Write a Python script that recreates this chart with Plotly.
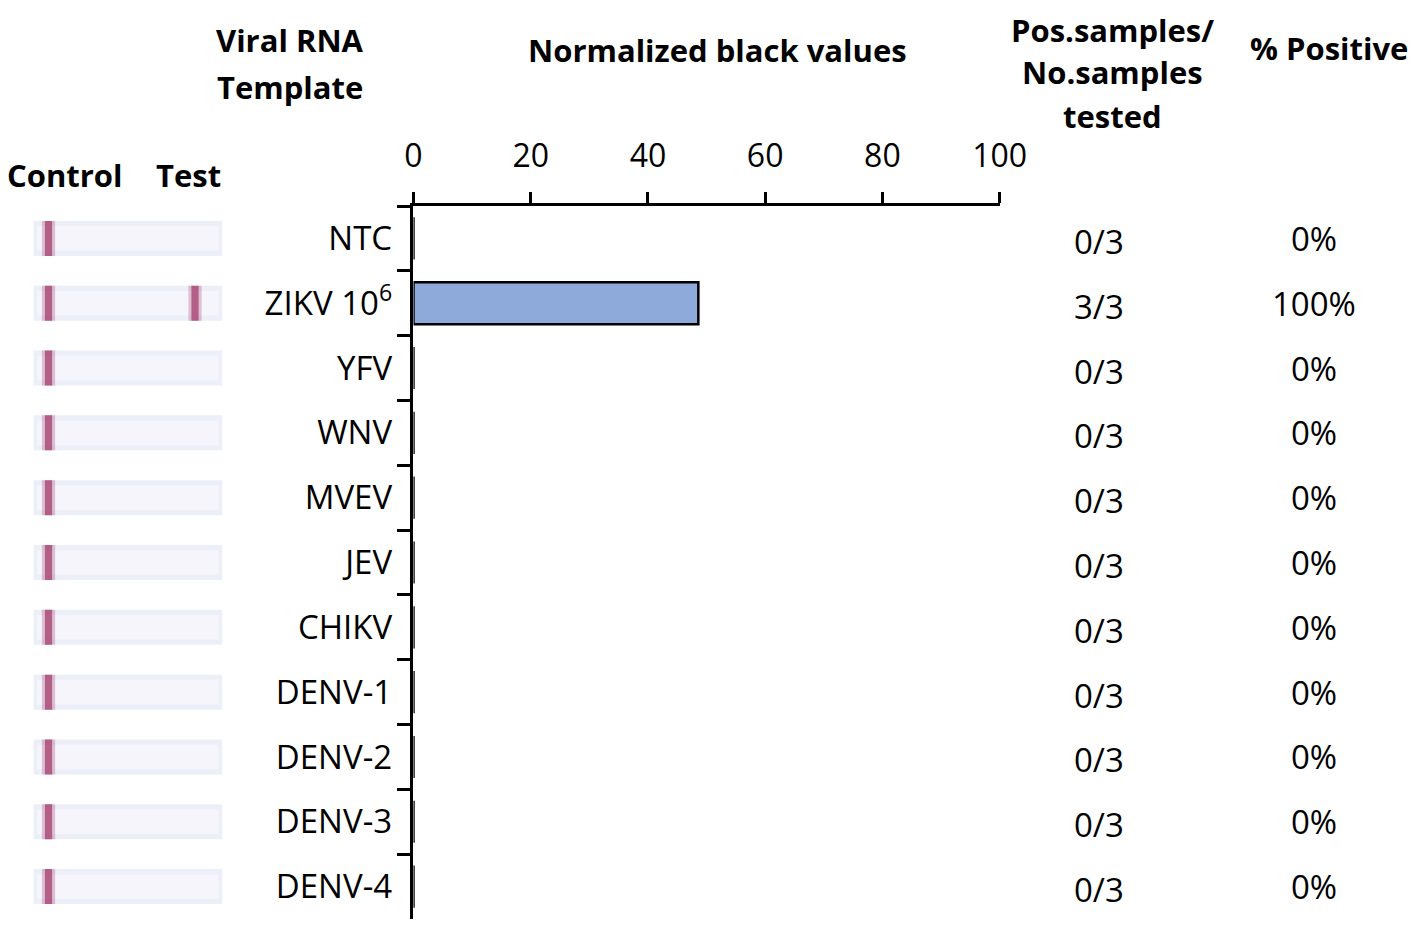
import plotly.graph_objects as go

# ---- data ----
templates = ["NTC", "ZIKV 10<sup>6</sup>", "YFV", "WNV", "MVEV", "JEV", "CHIKV",
             "DENV-1", "DENV-2", "DENV-3", "DENV-4"]
normalized_black = [0, 48.6, 0, 0, 0, 0, 0, 0, 0, 0, 0]
pos_samples = [0, 3, 0, 0, 0, 0, 0, 0, 0, 0, 0]
n_tested = [3, 3, 3, 3, 3, 3, 3, 3, 3, 3, 3]
x_ticks = [0, 20, 40, 60, 80, 100]

W, H = 1418, 929
FONT = "Open Sans"

# calibrated pixel -> paper conversion
def px(x):
    return ((x - 16.6) / 0.9744) / W

def py(y, off=7):
    return 1 - (y - off) / H

n_cat = len(templates)

fig = go.Figure()
fig.add_trace(go.Bar(
    x=normalized_black, y=templates, orientation="h",
    marker=dict(color="#8eaadb", line=dict(color="black", width=2.5)),
    xaxis="x", yaxis="y", showlegend=False, hoverinfo="x+y",
))

fig.add_trace(go.Scatter(x=[0, 1], y=[templates[0], templates[0]], mode="markers",
                         marker=dict(opacity=0, size=1), xaxis="x2", yaxis="y",
                         showlegend=False, hoverinfo="skip"))

LINE = "#a84676"
shapes = []
for i, (t, p) in enumerate(zip(templates, pos_samples)):
    shapes.append(dict(type="rect", xref="x2", yref="y", x0=0, x1=1,
                       y0=i - 0.27, y1=i + 0.27, fillcolor="#eceef8",
                       line=dict(width=0), layer="below"))
    shapes.append(dict(type="rect", xref="x2", yref="y", x0=0.02, x1=0.98,
                       y0=i - 0.19, y1=i + 0.19, fillcolor="#f5f5fb",
                       line=dict(width=0), layer="below"))
    line_pos = [(0.055, 0.105)]
    if p > 0:
        line_pos.append((0.83, 0.88))
    for a, b in line_pos:
        shapes.append(dict(type="rect", xref="x2", yref="y", x0=a - 0.01, x1=b + 0.01,
                           y0=i - 0.27, y1=i + 0.27, fillcolor=LINE,
                           opacity=0.3, line=dict(width=0), layer="below"))
        shapes.append(dict(type="rect", xref="x2", yref="y", x0=a + 0.006, x1=b - 0.006,
                           y0=i - 0.27, y1=i + 0.27, fillcolor=LINE,
                           opacity=0.8, line=dict(width=0), layer="below"))

annotations = []
for t, p, n in zip(templates, pos_samples, n_tested):
    annotations.append(dict(xref="paper", yref="y", x=px(1098), y=t,
                            text=f"{p}/{n}", showarrow=False,
                            font=dict(size=33, family=FONT, color="black"),
                            xanchor="center", yanchor="middle", yshift=-3))
    pct = round(100 * p / n)
    annotations.append(dict(xref="paper", yref="y", x=px(1313), y=t,
                            text=f"{pct}%", showarrow=False,
                            font=dict(size=33, family=FONT, color="black"),
                            xanchor="center", yanchor="middle"))

headers = [
    ("Viral RNA", 290, 40), ("Template", 290, 87),
    ("Normalized black values", 717, 50),
    ("Pos.samples/", 1112, 30), ("No.samples", 1112, 72), ("tested", 1112, 116),
    ("% Positive", 1328, 48),
    ("Control", 65, 175), ("Test", 188, 175),
]
for txt, x, y in headers:
    annotations.append(dict(xref="paper", yref="paper", x=px(x), y=py(y, 8),
                            text=f"<b>{txt}</b>", showarrow=False,
                            font=dict(size=31, family=FONT, color="black"),
                            xanchor="center", yanchor="middle"))

fig.update_layout(
    width=W, height=H,
    margin=dict(l=0, r=0, t=0, b=0),
    paper_bgcolor="white", plot_bgcolor="white",
    font=dict(family=FONT, size=33, color="black"),
    bargap=0.35,
    xaxis=dict(domain=[px(413), px(999)], range=[0, 100], side="top",
               tickvals=x_ticks, ticks="outside", ticklen=11, tickwidth=2.5,
               tickcolor="black", showline=True, linecolor="black", linewidth=2.5,
               showgrid=False, zeroline=False, tickfont=dict(size=32, family=FONT),
               ticklabelstandoff=12, anchor="y", fixedrange=True),
    xaxis2=dict(domain=[px(33), px(222)], range=[0, 1], visible=False,
                anchor="y", fixedrange=True),
    yaxis=dict(domain=[py(918), py(205)], range=[n_cat - 0.5, -0.5], type="category",
               tickson="boundaries", ticks="outside", ticklen=14, tickwidth=2.5,
               tickcolor="black", showline=True, linecolor="black", linewidth=2.5,
               showgrid=False, zeroline=False, tickfont=dict(size=33, family=FONT),
               ticklabelstandoff=12, anchor="x", fixedrange=True),
    shapes=shapes,
    annotations=annotations,
)

fig.write_html("out.html")
